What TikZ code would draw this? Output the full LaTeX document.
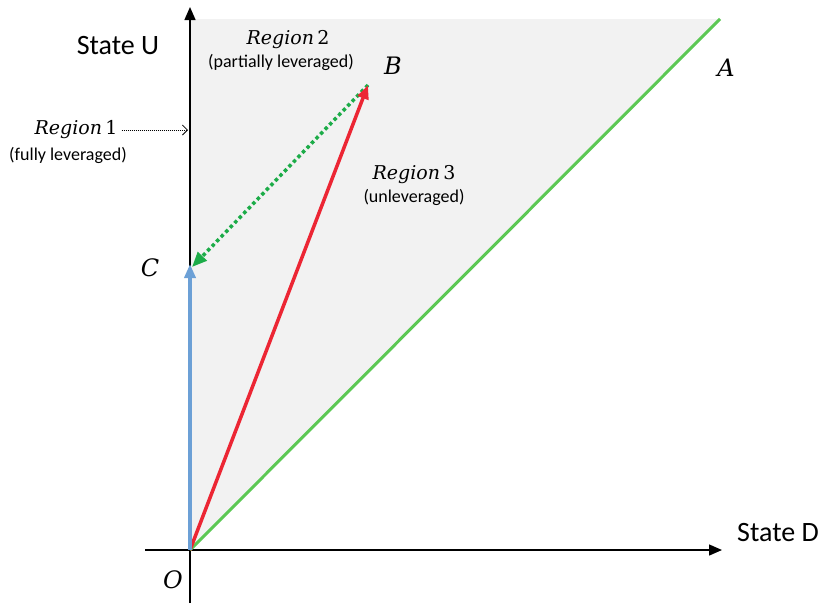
\documentclass[tikz,border=0pt]{standalone}
\usepackage{fontspec}
\setmainfont{Carlito}
\newfontfamily\serifit{DejaVu Serif}
\usetikzlibrary{arrows.meta,positioning}
\definecolor{coneshade}{RGB}{242,242,242}
\definecolor{lineA}{RGB}{92,200,84}
\definecolor{vecred}{RGB}{236,38,52}
\definecolor{vecblue}{RGB}{108,160,214}
\definecolor{levgreen}{RGB}{28,172,72}
\newcommand{\regname}[1]{{\serifit\textit{Region}\,#1}}
\newcommand{\ptname}[1]{{\serifit\textit{#1}}}
\tikzstyle{axis} = [line width=1.4pt, -{Triangle[length=13pt,width=11pt]}]
\tikzstyle{axislabel} = [font=\fontsize{28}{30}\selectfont, inner sep=0pt]
\tikzstyle{pointlabel} = [font=\fontsize{24}{26}\selectfont, inner sep=0pt]
\tikzstyle{regionname} = [font=\fontsize{19}{22}\selectfont, inner sep=0pt]
\tikzstyle{regionnote} = [font=\fontsize{18}{20}\selectfont, inner sep=0pt]
\tikzstyle{vector} = [line width=3.5pt, -{Triangle[length=14pt,width=11pt]}]

\begin{document}
\begin{tikzpicture}[x=1pt, y=-1pt]
	\useasboundingbox (0,0) rectangle (826,603);
	% points of the diagram
	\coordinate (O) at (190,550);
	\coordinate (A) at (720,19);
	\coordinate (B) at (368,85);
	\coordinate (C) at (190,264);
	\coordinate (Ctop) at (190,19);
	% shaded cone
	\fill[coneshade] (O) -- (A) -- (Ctop) -- cycle;
	% axes
	\coordinate (xstart) at (145,550);
	\coordinate (xend) at (722,550);
	\coordinate (ystart) at (190,603);
	\coordinate (yend) at (190,7);
	\draw[axis] (xstart) -- (xend);
	\draw[axis] (ystart) -- (yend);
	\node[axislabel, anchor=west] (stateD) at (737,533) {State D};
	\node[axislabel] (stateU) at (118,46) {State U};
	% lines and vectors
	\draw[lineA, line width=3pt] (O) -- (A);
	\draw[levgreen, line width=3.5pt, dash pattern=on 3.5pt off 3pt,
		-{Triangle[length=15pt,width=12pt]}] (B) -- ([xshift=2pt,yshift=-3pt]C);
	\draw[vector, vecred] (O) -- (B);
	\draw[vector, vecblue] (O) -- (C);
	% point labels
	\node[pointlabel] (labA) at (726,68) {\ptname{A}};
	\node[pointlabel] (labB) at (393,66) {\ptname{B}};
	\node[pointlabel] (labC) at (150,268) {\ptname{C}};
	\node[pointlabel] (labO) at (173,580) {\ptname{O}};
	% regions
	\node[regionname] (reg1) at (76,130) {\regname{1}};
	\node[regionnote] (note1) at (68,155) {(fully leveraged)};
	\coordinate (axis1) at (188,130);
	\draw[line width=0.8pt, dash pattern=on 1pt off 1pt,
		-{Straight Barb[length=5pt,width=10pt]}] (reg1.east) ++(4pt,0) -- (axis1);
	\node[regionname] (reg2) at (288,40) {\regname{2}};
	\node[regionnote] (note2) at (281,62) {(partially leveraged)};
	\node[regionname] (reg3) at (414,175) {\regname{3}};
	\node[regionnote] (note3) at (414,197) {(unleveraged)};
\end{tikzpicture}
\end{document}
